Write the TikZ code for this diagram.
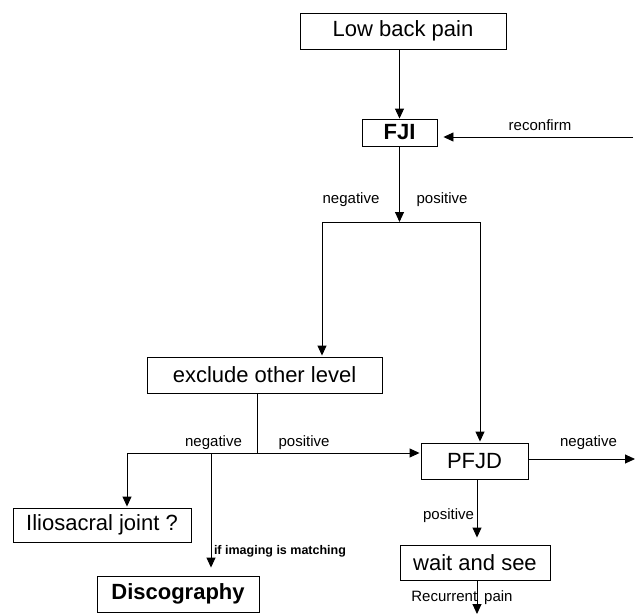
\documentclass[tikz,border=0pt]{standalone}
\usepackage{fontspec}
\setmainfont{Liberation Sans}
\usetikzlibrary{arrows.meta}

\begin{document}
\begin{tikzpicture}[x=1pt,y=-1pt,line width=0.9pt,
    box/.style={draw,inner sep=0pt,font=\fontsize{22}{25}\selectfont},
    lbl/.style={inner sep=0pt,font=\fontsize{15}{17}\selectfont},
    arr/.style={-{Triangle[length=10pt,width=9pt]}}]
        \useasboundingbox (0,0) rectangle (635,616);

        \node[box,minimum width=206,minimum height=36] (lbp) at (403,31) {Low back pain};
        \node[box,minimum width=75,minimum height=27,font=\fontsize{22}{25}\selectfont\bfseries] (fji) at (399.5,132.5) {FJI};
        \node[box,minimum width=235,minimum height=36] (excl) at (264.5,375) {exclude other level};
        \node[box,minimum width=107,minimum height=36] (pfjd) at (474.5,461) {PFJD};
        \node[box,minimum width=178,minimum height=34] (ilio) at (102,525) {Iliosacral joint ?};
        \node[box,minimum width=162,minimum height=36,font=\fontsize{22}{25}\selectfont\bfseries] (disco) at (178,594) {Discography};
        \node[box,minimum width=150,minimum height=35] (wait) at (475,562.5) {wait and see};

        \coordinate (rc) at (633,137);
        \coordinate (sp1) at (399.5,222);
        \coordinate (nl1) at (322,222);
        \coordinate (pr1) at (480,222);
        \coordinate (sp2) at (257,453);
        \coordinate (nl2) at (127,453);
        \coordinate (dc) at (211,453);
        \coordinate (ng) at (635,459);
        \coordinate (rp) at (477,614);

        \draw[arr] (lbp.south -| fji.north) -- (fji.north);
        \draw[arr,shorten >=6pt] (rc) -- (fji.east |- rc);
        \draw[arr] (fji.south) -- (sp1);
        \draw (nl1) -- (pr1);
        \draw[arr,shorten >=1pt] (nl1) -- (excl.north -| nl1);
        \draw[arr,shorten >=1pt] (pr1) -- (pfjd.north -| pr1);

        \draw (excl.south -| sp2) -- (sp2);
        \draw[arr,shorten >=1pt] (nl2) -- (pfjd.west |- sp2);
        \draw[arr,shorten >=1pt] (nl2) -- (ilio.north -| nl2);
        \draw[arr,shorten >=8pt] (dc) -- (disco.north -| dc);

        \draw[arr] (pfjd.east |- ng) -- (ng);
        \draw[arr,shorten >=7pt] (pfjd.south -| rp) -- (wait.north -| rp);
        \draw[arr] (wait.south -| rp) -- (rp);

        \node[lbl] (t1) at (540,125) {reconfirm};
        \node[lbl] (t2) at (351,200) {negative};
        \node[lbl] (t3) at (442,200) {positive};
        \node[lbl] (t4) at (213.5,443) {negative};
        \node[lbl] (t5) at (304,443) {positive};
        \node[lbl,font=\fontsize{12.5}{14}\selectfont\bfseries] (t6) at (280,551) {if imaging is matching};
        \node[lbl] (t7) at (588.5,443) {negative};
        \node[lbl] (t8) at (448.5,516) {positive};
        \node[lbl] (t9) at (462,598) {Recurrent\hskip 7pt pain};
    \end{tikzpicture}
\end{document}
